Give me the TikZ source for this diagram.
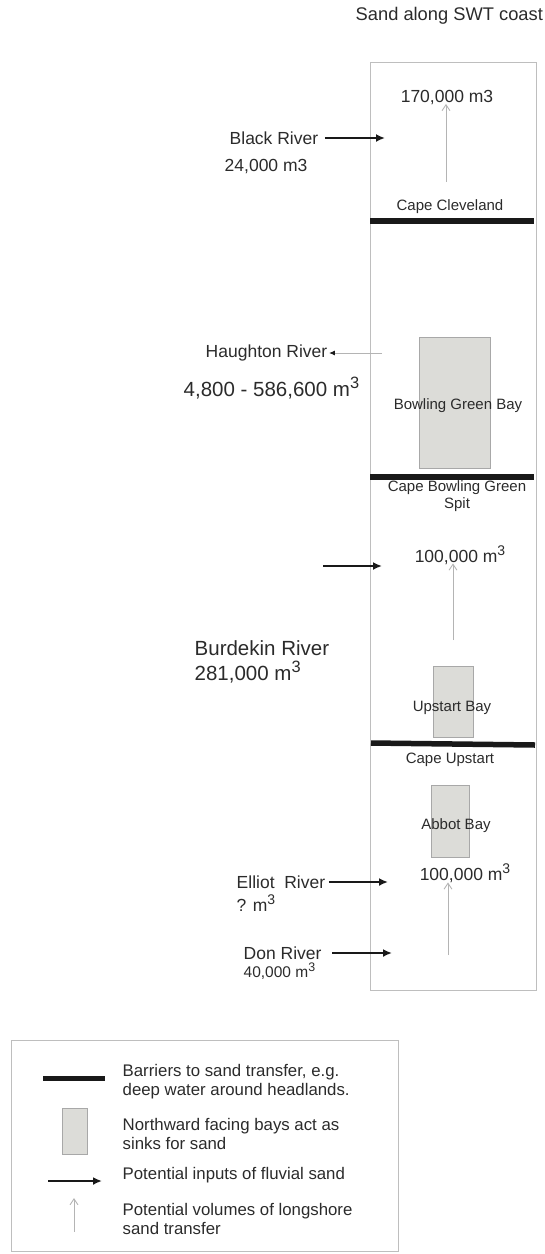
\documentclass[tikz,border=0pt]{standalone}
\usepackage{fontspec}
\setmainfont{Liberation Sans}
\usetikzlibrary{arrows.meta}

\definecolor{framegray}{HTML}{BEBEBE}
\definecolor{bayfill}{HTML}{DCDCD8}
\definecolor{baydraw}{HTML}{A8A8A8}
\definecolor{driftgray}{HTML}{B4B4B4}
\definecolor{txtgray}{HTML}{2B2B2B}
\newcommand{\cubm}{m\raisebox{0.42em}{\scalebox{0.8}{3}}}

\begin{document}
\begin{tikzpicture}[x=1pt, y=-1pt,
	every node/.style={inner sep=1.5pt, text=txtgray},
	place/.style={font=\fontsize{15}{17}\selectfont},
	river/.style={font=\fontsize{17.5}{20}\selectfont},
	bigtxt/.style={font=\fontsize{20.5}{24}\selectfont},
	legtxt/.style={font=\fontsize{16.8}{19}\selectfont, align=left, anchor=west},
	bay/.style={draw=baydraw, fill=bayfill, line width=1pt, inner sep=0pt},
	barrier/.style={line width=5.5pt, black!90},
	inflow/.style={line width=2pt, black!90, -{Latex[length=9pt, width=8pt]}},
	drift/.style={line width=0.9pt, driftgray, -{Straight Barb[length=6pt, width=8pt]}}]
	\useasboundingbox (0,0) rectangle (545,1254);
	% coast frame
	\draw[framegray, line width=1pt] (370,62) rectangle (536,990);
	\node[river, anchor=west, font=\fontsize{18.3}{22}\selectfont] (title) at (354,16) {Sand along SWT coast};
	% Black River cell
	\node[river, anchor=west] (black) at (228,138) {Black River};
	\node[river, anchor=west] (blackvol) at (223,167) {24,000 m3};
	\coordinate (blackin) at (385,138);
	\draw[inflow] ([xshift=5pt]black.east) -- (blackin |- black.east);
	\node[river] (drift1) at (447,98) {170,000 m3};
	\coordinate (drift1start) at (446,182);
	\draw[drift] (drift1start) -- ([yshift=3pt]drift1start |- drift1.south);
	\node[place] (cleveland) at (450,207) {Cape Cleveland};
	\draw[barrier] (370,221) -- (534,221);
	% Haughton River and Bowling Green Bay
	\node[river, anchor=west] (haughton) at (204,353) {Haughton River};
	\coordinate (haughtonout) at (382,353);
	\draw[driftgray, line width=0.9pt, -{Latex[length=6pt, width=5pt, black!90]}] (haughtonout) -- (haughton.east);
	\node[bigtxt, anchor=west] (haughtonvol) at (182,388) {4,800 - 586,600 \cubm};
	\node[bay, minimum width=71pt, minimum height=131pt] (bgbay) at (454.5,402.5) {};
	\node[place] (bgbaylbl) at (458,406) {Bowling Green Bay};
	\draw[barrier] (370,477) -- (534,477);
	\node[place, align=center] (bgspit) at (457,496) {Cape Bowling Green\\Spit};
	% Burdekin River and Upstart Bay
	\coordinate (burdfrom) at (323,566);
	\coordinate (burdin) at (382,566);
	\draw[inflow] (burdfrom) -- (burdin);
	\node[river] (drift2) at (460,555) {100,000 \cubm};
	\coordinate (drift2start) at (453,640);
	\draw[drift] (drift2start) -- ([yshift=3pt]drift2start |- drift2.south);
	\node[bigtxt, anchor=west] (burdekin) at (193,648) {Burdekin River};
	\node[bigtxt, anchor=west] (burdvol) at (193,672) {281,000 \cubm};
	\node[bay, minimum width=40pt, minimum height=71pt] (upbay) at (453,701.5) {};
	\node[place] (upbaylbl) at (452,708) {Upstart Bay};
	\draw[barrier] (371,743) -- (535,745);
	\node[place] (upstart) at (450,760) {Cape Upstart};
	% Elliot and Don rivers, Abbot Bay
	\node[bay, minimum width=38pt, minimum height=72pt] (abbay) at (450,821) {};
	\node[place] (abbaylbl) at (456,826) {Abbot Bay};
	\node[river] (drift3) at (465,873) {100,000 \cubm};
	\coordinate (drift3start) at (448,955);
	\draw[drift] (drift3start) -- ([yshift=2pt]drift3start |- drift3.south);
	\node[river, anchor=west] (elliot) at (235,882) {Elliot\ \ River};
	\node[river, anchor=west] (elliotvol) at (235,903) {? \cubm};
	\coordinate (elliotin) at (388,880);
	\draw[inflow] ([xshift=2pt]elliot.east) -- (elliotin |- elliot.east);
	\node[river, anchor=west] (don) at (242,953) {Don River};
	\node[place, anchor=west, font=\fontsize{15.5}{18}\selectfont] (donvol) at (242,971) {40,000 \cubm};
	\coordinate (donin) at (392,954);
	\draw[inflow] ([xshift=9pt]don.east) -- (donin |- don.east);
	% legend
	\draw[framegray, line width=1pt] (11,1040) rectangle (398,1251);
	\draw[barrier, line width=5pt] (43,1078) -- (105,1078);
	\node[legtxt] (legbarrier) at (121,1082) {Barriers to sand transfer, e.g.\\deep water around headlands.};
	\node[bay, minimum width=25pt, minimum height=46pt] (legbay) at (74.5,1131) {};
	\node[legtxt] (legsink) at (121,1134) {Northward facing bays act as\\sinks for sand};
	\coordinate (leginfrom) at (48,1181);
	\coordinate (leginto) at (102,1181);
	\draw[inflow] (leginfrom) -- (leginto);
	\node[legtxt] (leginput) at (121,1175) {Potential inputs of fluvial sand};
	\coordinate (legdriftfrom) at (74,1232);
	\coordinate (legdriftto) at (74,1198);
	\draw[drift] (legdriftfrom) -- (legdriftto);
	\node[legtxt] (legdrift) at (121,1219) {Potential volumes of longshore\\sand transfer};
\end{tikzpicture}
\end{document}
